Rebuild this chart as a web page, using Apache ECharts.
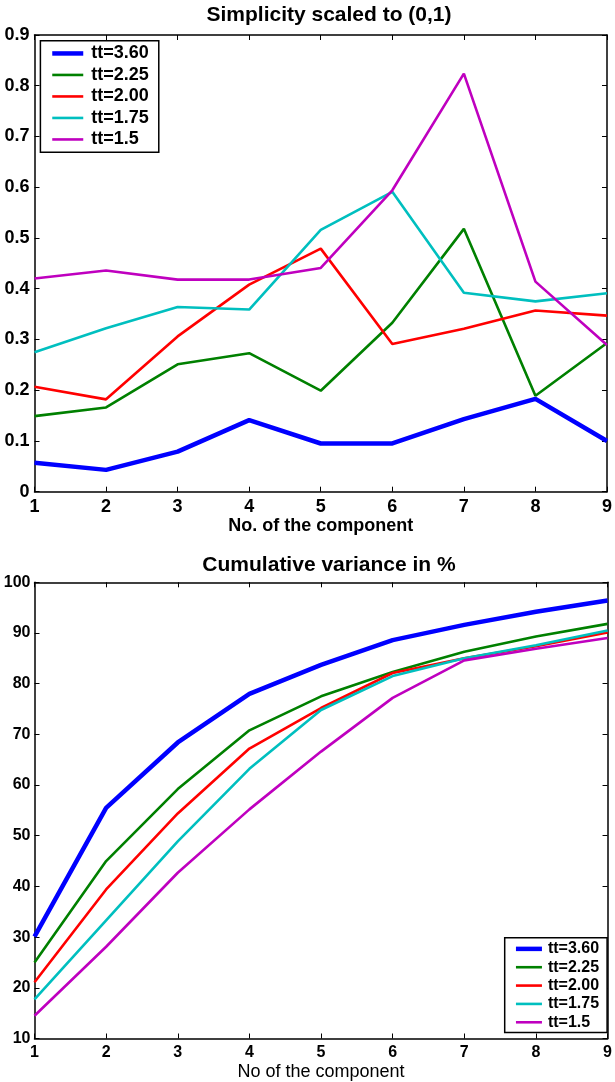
<!DOCTYPE html>
<html>
<head>
<meta charset="utf-8">
<script src="https://cdn.jsdelivr.net/npm/echarts@6/dist/echarts.min.js"></script>
<style>
html,body{margin:0;padding:0;background:#fff;}
#c{width:615px;height:1082px;}
</style>
</head>
<body>
<div id="c"></div>
<script>
// ---- data ----
var components = [1, 2, 3, 4, 5, 6, 7, 8, 9];
var seriesNames = ['tt=3.60', 'tt=2.25', 'tt=2.00', 'tt=1.75', 'tt=1.5'];
var seriesColors = ['#0000ff', '#008000', '#ff0000', '#00bfbf', '#bf00bf'];

// Simplicity scaled to (0,1)
var simp_360 = [0.057, 0.043, 0.079, 0.141, 0.095, 0.095, 0.143, 0.183, 0.100];
var simp_225 = [0.149, 0.166, 0.251, 0.273, 0.199, 0.333, 0.518, 0.189, 0.293];
var simp_200 = [0.207, 0.182, 0.306, 0.408, 0.479, 0.291, 0.321, 0.357, 0.347];
var simp_175 = [0.275, 0.322, 0.364, 0.359, 0.516, 0.591, 0.392, 0.375, 0.391];
var simp_150 = [0.420, 0.436, 0.418, 0.418, 0.441, 0.594, 0.824, 0.414, 0.289];

// Cumulative variance in %
var cum_360 = [30.1, 55.5, 68.4, 78.0, 83.7, 88.6, 91.6, 94.2, 96.4];
var cum_225 = [25.0, 45.0, 59.2, 70.8, 77.5, 82.3, 86.3, 89.3, 91.8];
var cum_200 = [21.1, 39.4, 54.4, 67.2, 75.2, 82.1, 85.0, 87.4, 90.1];
var cum_175 = [17.7, 33.3, 48.9, 63.2, 74.8, 81.5, 85.0, 87.6, 90.5];
var cum_150 = [14.5, 28.1, 42.7, 55.2, 66.6, 77.2, 84.6, 86.9, 89.0];

var simpData = [simp_360, simp_225, simp_200, simp_175, simp_150];
var cumData = [cum_360, cum_225, cum_200, cum_175, cum_150];

// ---- chart ----
var FONT = '"Liberation Sans", Arial, Helvetica, sans-serif';
function pairs(vals) { return components.map(function (c, i) { return [c, vals[i]]; }); }
function lw(i) { return i === 0 ? 4.5 : 2.6; }

function boxAxis(base) {
  var o = {
    axisLine: { show: true, onZero: false, lineStyle: { color: '#000', width: 1.5 } },
    axisTick: { show: true, inside: true, length: 5, lineStyle: { color: '#000', width: 1 } },
    splitLine: { show: false }
  };
  for (var k in base) o[k] = base[k];
  return o;
}

var xBase0 = { type: 'value', gridIndex: 0, min: 1, max: 9, interval: 1 };
var xBase1 = { type: 'value', gridIndex: 1, min: 1, max: 9, interval: 1 };
var yBase0 = { type: 'value', gridIndex: 0, min: 0, max: 0.9, interval: 0.1 };
var yBase1 = { type: 'value', gridIndex: 1, min: 10, max: 100, interval: 10 };

function ext(a, b) { var o = {}; for (var k in a) o[k] = a[k]; for (var k2 in b) o[k2] = b[k2]; return o; }

var xAxes = [
  boxAxis(ext(xBase0, {
    position: 'bottom',
    name: 'No. of the component', nameLocation: 'middle', nameGap: 25,
    nameTextStyle: { fontFamily: FONT, fontWeight: 'bold', fontSize: 18, color: '#000' },
    axisLabel: { fontFamily: FONT, fontWeight: 'bold', fontSize: 18, color: '#000', margin: 6 }
  })),
  boxAxis(ext(xBase0, { position: 'top', axisLabel: { show: false } })),
  boxAxis(ext(xBase1, {
    position: 'bottom',
    name: 'No of the component', nameLocation: 'middle', nameGap: 24.5,
    nameTextStyle: { fontFamily: FONT, fontWeight: 'normal', fontSize: 18, color: '#000' },
    axisLabel: { fontFamily: FONT, fontWeight: 'bold', fontSize: 16, color: '#000', margin: 6 }
  })),
  boxAxis(ext(xBase1, { position: 'top', axisLabel: { show: false } }))
];

var yAxes = [
  boxAxis(ext(yBase0, {
    position: 'left',
    axisLabel: {
      fontFamily: FONT, fontWeight: 'bold', fontSize: 18, color: '#000', margin: 5,
      formatter: function (v) { return v === 0 ? '0' : v.toFixed(1); }
    }
  })),
  boxAxis(ext(yBase0, { position: 'right', axisLabel: { show: false } })),
  boxAxis(ext(yBase1, {
    position: 'left',
    axisLabel: { fontFamily: FONT, fontWeight: 'bold', fontSize: 16, color: '#000', margin: 4 }
  })),
  boxAxis(ext(yBase1, { position: 'right', axisLabel: { show: false } }))
];

var series = [];
seriesNames.forEach(function (n, i) {
  series.push({
    name: n, type: 'line', xAxisIndex: 0, yAxisIndex: 0,
    data: pairs(simpData[i]), symbol: 'none', animation: false,
    lineStyle: { color: seriesColors[i], width: lw(i) },
    itemStyle: { color: seriesColors[i] }
  });
});
seriesNames.forEach(function (n, i) {
  series.push({
    name: n, type: 'line', xAxisIndex: 2, yAxisIndex: 2,
    data: pairs(cumData[i]), symbol: 'none', animation: false,
    lineStyle: { color: seriesColors[i], width: lw(i) },
    itemStyle: { color: seriesColors[i] }
  });
});

function legendData() {
  return seriesNames.map(function (n, i) {
    return { name: n, lineStyle: { width: lw(i), color: seriesColors[i] }, itemStyle: { opacity: 0 } };
  });
}

var option = {
  backgroundColor: '#fff',
  animation: false,
  title: [
    { text: 'Simplicity scaled to (0,1)', left: 324, textAlign: 'center', top: 0,
      textStyle: { fontFamily: FONT, fontWeight: 'bold', fontSize: 21, color: '#000' } },
    { text: 'Cumulative variance in %', left: 324, textAlign: 'center', top: 549.5,
      textStyle: { fontFamily: FONT, fontWeight: 'bold', fontSize: 21, color: '#000' } }
  ],
  grid: [
    { left: 34.5, right: 2, top: 35, height: 456.7 },
    { left: 34.5, right: 2, top: 582.3, height: 457 }
  ],
  xAxis: xAxes,
  yAxis: yAxes,
  legend: [
    {
      data: legendData(), orient: 'vertical', left: 40.4, top: 40.7,
      itemWidth: 31, itemHeight: 14, itemGap: 0,
      padding: [2, 10, 2, 9.6],
      borderColor: '#000', borderWidth: 1.5, backgroundColor: '#fff',
      selectedMode: false,
      itemStyle: { opacity: 0 },
      lineStyle: { width: 'inherit' },
      textStyle: { fontFamily: FONT, fontWeight: 'bold', fontSize: 18, color: '#000', lineHeight: 21.5, padding: [0, 0, 0, 3] }
    },
    {
      data: legendData(), orient: 'vertical', left: 504.7, top: 937.7,
      itemWidth: 26, itemHeight: 14, itemGap: 0,
      padding: [2, 8, 1, 9],
      borderColor: '#000', borderWidth: 1.5, backgroundColor: '#fff',
      selectedMode: false,
      itemStyle: { opacity: 0 },
      lineStyle: { width: 'inherit' },
      textStyle: { fontFamily: FONT, fontWeight: 'bold', fontSize: 16, color: '#000', lineHeight: 18.35, padding: [0, 0, 0, 1] }
    }
  ],
  series: series
};

var chart = echarts.init(document.getElementById('c'), null, { renderer: 'canvas' });
chart.setOption(option);
</script>
</body>
</html>
